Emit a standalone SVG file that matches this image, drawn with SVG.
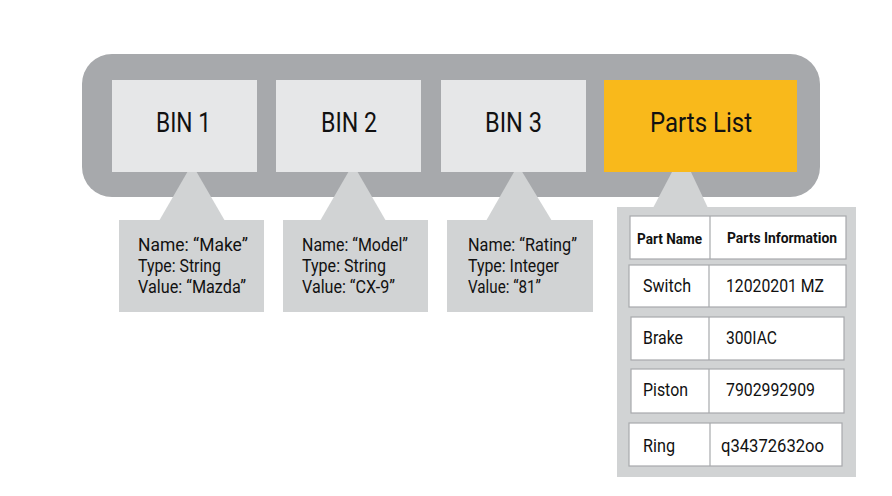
<svg xmlns="http://www.w3.org/2000/svg" width="892" height="496" viewBox="0 0 892 496">
<style>
.bin{fill:#e6e7e8}
.call{fill:#d1d3d4}
.cell{fill:#ffffff;stroke:#a7a9ac;stroke-width:1.2}
.div{stroke:#a7a9ac;stroke-width:1.2}
.big{font-family:Roboto,"Liberation Sans",sans-serif;font-size:27px;fill:#111}
.t{font-family:Roboto,"Liberation Sans",sans-serif;font-size:18px;fill:#111}
.r{font-family:Roboto,"Liberation Sans",sans-serif;font-size:17.5px;fill:#111}
.th{font-family:Roboto,"Liberation Sans",sans-serif;font-size:14.5px;font-weight:bold;fill:#111}
</style>
<rect width="892" height="496" fill="#ffffff"/>
<g id="container">
<rect x="82" y="54" width="738" height="143" rx="30" ry="30" fill="#a7a9ac"/>
</g>
<g id="connectors">
<polygon class="call" points="192,164 159,221 225,221"/>
<polygon class="call" points="353,164 320,221 386,221"/>
<polygon class="call" points="518,165 486,221 552,221"/>
<polygon class="call" points="682,153 653,208 708,208"/>
</g>
<g id="bin1">
<rect class="bin" x="112" y="80" width="145" height="92"/>
<text class="big" x="156" y="131.5" textLength="55" lengthAdjust="spacingAndGlyphs">BIN 1</text>
</g>
<g id="bin2">
<rect class="bin" x="276" y="80" width="145" height="92"/>
<text class="big" x="321" y="131.5" textLength="56" lengthAdjust="spacingAndGlyphs">BIN 2</text>
</g>
<g id="bin3">
<rect class="bin" x="441" y="80" width="145" height="92"/>
<text class="big" x="485" y="131.5" textLength="57" lengthAdjust="spacingAndGlyphs">BIN 3</text>
</g>
<g id="partslist">
<rect x="604" y="80" width="193" height="92" fill="#f9b91b"/>
<text class="big" x="650" y="131.5" textLength="102" lengthAdjust="spacingAndGlyphs">Parts List</text>
</g>
<g id="info1">
<rect class="call" x="119" y="220" width="145" height="92"/>
<text class="t" x="138" y="250.5" textLength="110" lengthAdjust="spacingAndGlyphs">Name: “Make”</text>
<text class="t" x="138" y="272" textLength="83" lengthAdjust="spacingAndGlyphs">Type: String</text>
<text class="t" x="138" y="293" textLength="108" lengthAdjust="spacingAndGlyphs">Value: “Mazda”</text>
</g>
<g id="info2">
<rect class="call" x="283" y="220" width="145" height="92"/>
<text class="t" x="302" y="250.5" textLength="106" lengthAdjust="spacingAndGlyphs">Name: “Model”</text>
<text class="t" x="302" y="272" textLength="84" lengthAdjust="spacingAndGlyphs">Type: String</text>
<text class="t" x="302" y="293" textLength="93" lengthAdjust="spacingAndGlyphs">Value: “CX-9”</text>
</g>
<g id="info3">
<rect class="call" x="447" y="220" width="146" height="92"/>
<text class="t" x="468" y="250.5" textLength="109" lengthAdjust="spacingAndGlyphs">Name: “Rating”</text>
<text class="t" x="468" y="272" textLength="91" lengthAdjust="spacingAndGlyphs">Type: Integer</text>
<text class="t" x="468" y="293" textLength="73" lengthAdjust="spacingAndGlyphs">Value: “81”</text>
</g>
<g id="partstable">
<rect class="call" x="617" y="207" width="239" height="270"/>
<rect class="cell" x="630" y="216" width="216" height="43"/>
<line class="div" x1="710" y1="216" x2="710" y2="259"/>
<text class="th" x="637" y="244" textLength="65" lengthAdjust="spacingAndGlyphs">Part Name</text>
<text class="th" x="727" y="243" textLength="110" lengthAdjust="spacingAndGlyphs">Parts Information</text>
<rect class="cell" x="629" y="265" width="217" height="42"/>
<line class="div" x1="709" y1="265" x2="709" y2="307"/>
<text class="r" x="643" y="292" textLength="48" lengthAdjust="spacingAndGlyphs">Switch</text>
<text class="r" x="726" y="291.5" textLength="98" lengthAdjust="spacingAndGlyphs">12020201 MZ</text>
<rect class="cell" x="631" y="317" width="213" height="43"/>
<line class="div" x1="709" y1="317" x2="709" y2="360"/>
<text class="r" x="643" y="343.5" textLength="40" lengthAdjust="spacingAndGlyphs">Brake</text>
<text class="r" x="726" y="343.5" textLength="51" lengthAdjust="spacingAndGlyphs">300IAC</text>
<rect class="cell" x="631" y="369" width="213" height="44"/>
<line class="div" x1="709" y1="369" x2="709" y2="413"/>
<text class="r" x="643" y="396" textLength="45" lengthAdjust="spacingAndGlyphs">Piston</text>
<text class="r" x="726" y="396" textLength="89" lengthAdjust="spacingAndGlyphs">7902992909</text>
<rect class="cell" x="629" y="423" width="213" height="43"/>
<line class="div" x1="710" y1="423" x2="710" y2="466"/>
<text class="r" x="643" y="452" textLength="32" lengthAdjust="spacingAndGlyphs">Ring</text>
<text class="r" x="721" y="452" textLength="103" lengthAdjust="spacingAndGlyphs">q34372632oo</text>
</g>
</svg>
